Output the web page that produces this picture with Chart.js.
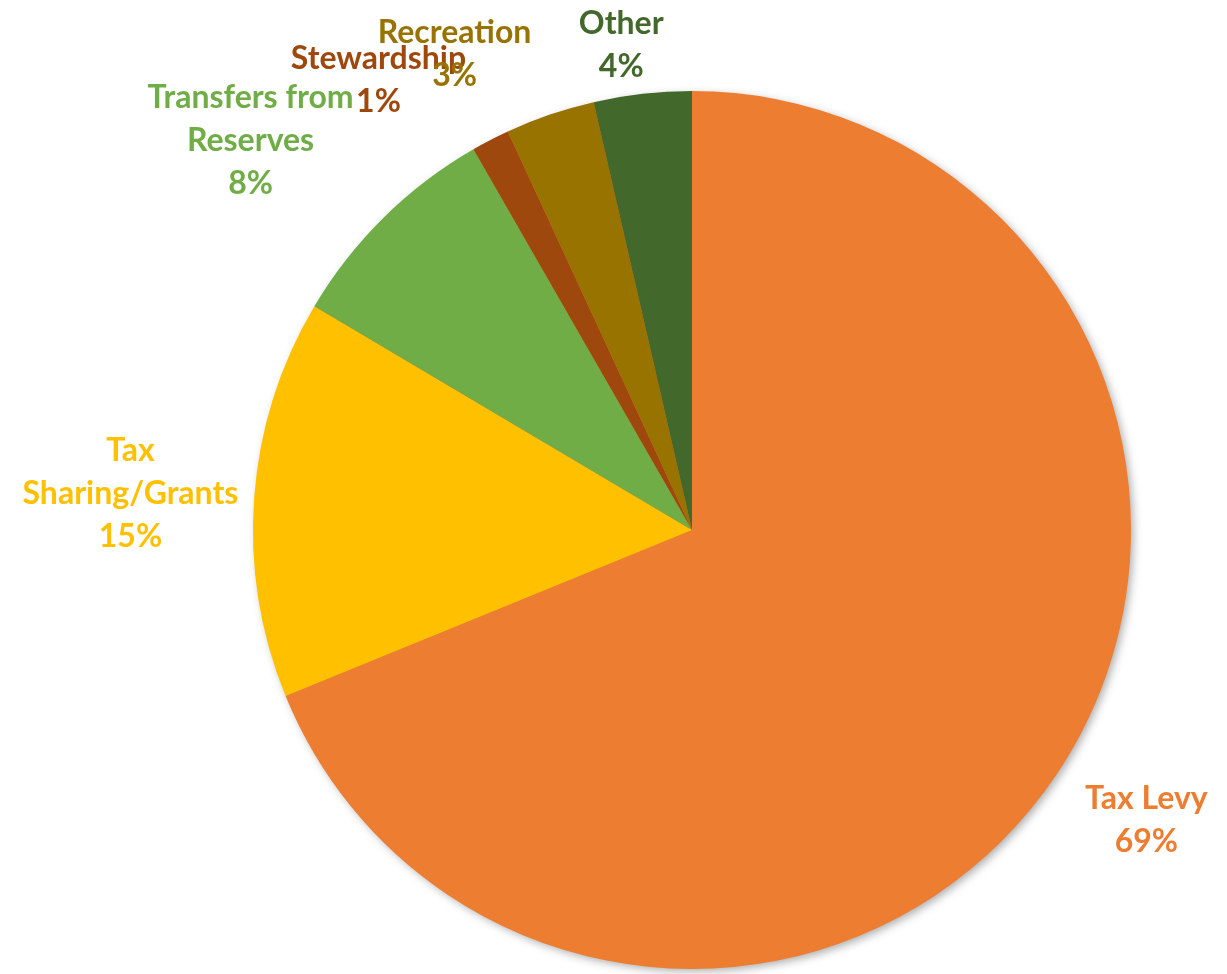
<!DOCTYPE html>
<html>
<head>
<meta charset="utf-8">
<title>Revenue sources</title>
<script src="https://cdn.jsdelivr.net/npm/chart.js"></script>
<style>
  html, body { margin: 0; padding: 0; background: #fff; }
  #chart { display: block; }
</style>
</head>
<body>
<canvas id="chart" width="1227" height="974"></canvas>
<script>
// ---- data ----
const categories = ["Tax Levy", "Tax Sharing/Grants", "Transfers from Reserves", "Stewardship", "Recreation", "Other"];
const shares = [68.9, 14.7, 8.2, 1.4, 3.3, 3.6];
// how each label wraps, like the original
const labelLines = [["Tax Levy"], ["Tax", "Sharing/Grants"], ["Transfers from", "Reserves"], ["Stewardship"], ["Recreation"], ["Other"]];

// ---- style ----
const sliceColors = ["#ED7D31", "#FFC000", "#70AD47", "#9E480E", "#997300", "#43682B"];
// nudge of each label from its default spot (px)
const labelNudge = [[7, -10], [-24, 3], [-63, -6], [-66, 29], [-63, 34], [-10, 51]];
const LABEL_GAP = 100;
const LINE_H = 43;
const FONT = "bold 32px Lato, 'Open Sans', sans-serif";

// soft shadow behind the pie, drawn before the slices
const pieShadow = {
  id: "pieShadow",
  beforeDatasetsDraw(chart) {
    const arc = chart.getDatasetMeta(0).data[0];
    if (!arc) return;
    const ctx = chart.ctx;
    ctx.save();
    ctx.shadowColor = "rgba(0,0,0,0.35)";
    ctx.shadowBlur = 10;
    ctx.shadowOffsetX = 3;
    ctx.shadowOffsetY = 3;
    ctx.fillStyle = sliceColors[0];
    ctx.beginPath();
    ctx.arc(arc.x, arc.y, arc.outerRadius - 1, 0, Math.PI * 2);
    ctx.fill();
    ctx.restore();
  }
};

// outside labels: name + percent in slice colour
const outsideLabels = {
  id: "outsideLabels",
  afterDatasetsDraw(chart) {
    const ctx = chart.ctx;
    const total = shares.reduce((a, b) => a + b, 0);
    ctx.save();
    ctx.font = FONT;
    ctx.textAlign = "center";
    ctx.textBaseline = "middle";
    chart.getDatasetMeta(0).data.forEach((arc, i) => {
      const mid = (arc.startAngle + arc.endAngle) / 2;
      const r = arc.outerRadius + LABEL_GAP;
      const cx = arc.x + Math.cos(mid) * r + labelNudge[i][0];
      const cy = arc.y + Math.sin(mid) * r + labelNudge[i][1];
      const lines = labelLines[i].concat([Math.round(shares[i] / total * 100) + "%"]);
      const top = cy - (lines.length - 1) * LINE_H / 2;
      ctx.fillStyle = sliceColors[i];
      lines.forEach((t, k) => ctx.fillText(t, cx, top + k * LINE_H));
    });
    ctx.restore();
  }
};

new Chart(document.getElementById("chart"), {
  type: "pie",
  data: {
    labels: categories,
    datasets: [{
      data: shares,
      backgroundColor: sliceColors,
      borderWidth: 0
    }]
  },
  options: {
    responsive: false,
    animation: false,
    layout: { padding: { left: 253, right: 96, top: 91, bottom: 5 } },
    plugins: { legend: { display: false }, tooltip: { enabled: false } }
  },
  plugins: [pieShadow, outsideLabels]
});
</script>
</body>
</html>
